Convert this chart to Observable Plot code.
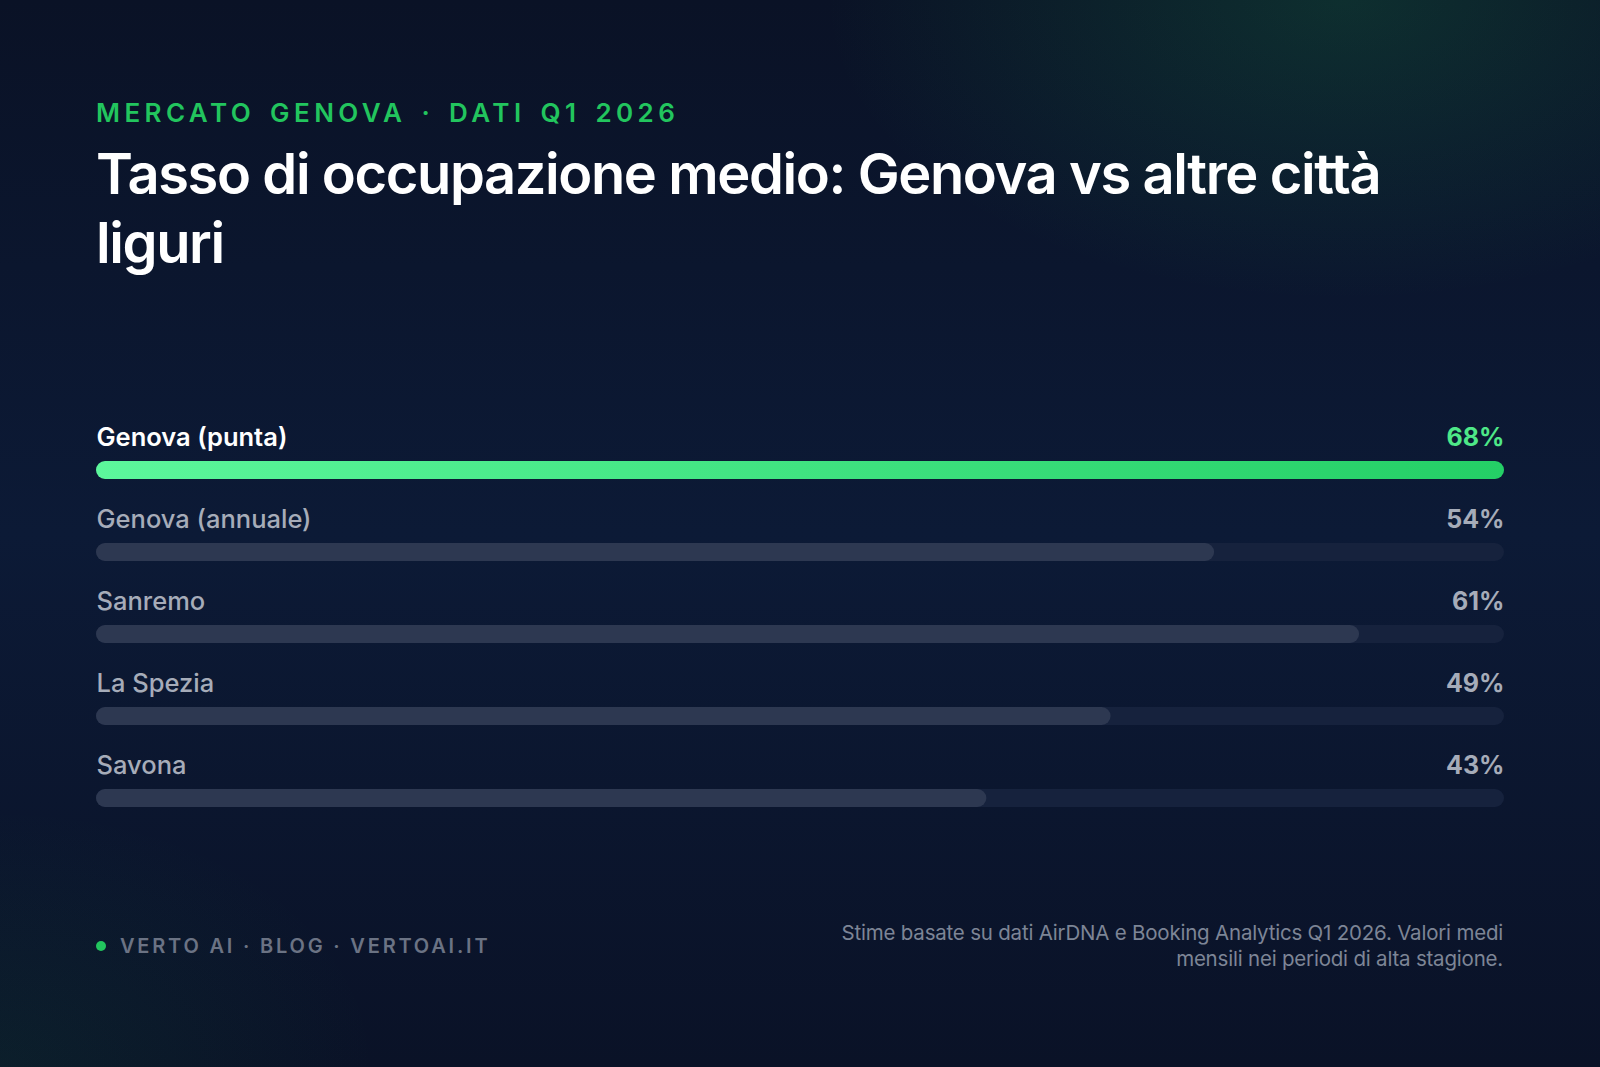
<!DOCTYPE html>
<html>
<head>
<meta charset="utf-8">
<script src="https://cdn.jsdelivr.net/npm/d3@7"></script>
<script src="https://cdn.jsdelivr.net/npm/@observablehq/plot@0.6"></script>
<style>
  html, body { margin: 0; padding: 0; }
  body {
    width: 1600px; height: 1067px; overflow: hidden; position: relative;
    font-family: Inter, "Noto Sans", sans-serif;
    background:
      radial-gradient(ellipse 520px 300px at 84% 0%, rgba(34,197,94,0.16), rgba(34,197,94,0) 100%),
      radial-gradient(ellipse 380px 260px at 0% 100%, rgba(34,197,94,0.07), rgba(34,197,94,0) 100%),
      linear-gradient(180deg, #0a1226 0%, #0c1a36 50%, #0a1227 100%);
  }
  .kicker {
    position: absolute; left: 96px; top: 100px;
    font-size: 26px; line-height: 26px; font-weight: 600;
    letter-spacing: 0.17em; word-spacing: 4px; color: #22c55e; white-space: nowrap;
  }
  .title-line {
    position: absolute; left: 96px; height: 58px; overflow: visible;
    font-size: 56px; line-height: 58px; font-weight: 600;
    letter-spacing: -0.025em; color: #ffffff; margin: 0; white-space: nowrap;
  }
  #chart { position: absolute; left: 96px; top: 410px; }
  .footer-left {
    position: absolute; left: 96px; top: 936px;
    font-size: 20px; line-height: 20px; font-weight: 600;
    letter-spacing: 0.14em; color: #6b7384; white-space: nowrap;
  }
  .footer-left .dot {
    display: inline-block; width: 10px; height: 10px; border-radius: 50%;
    background: #22c55e; margin-right: 14px; vertical-align: 2px;
  }
  .caption {
    position: absolute; right: 97px; top: 920px; text-align: right;
    font-size: 20.5px; line-height: 26px; color: #7d8596; font-weight: 400;
    letter-spacing: -0.01em;
  }
</style>
</head>
<body>
<div class="kicker">MERCATO GENOVA · DATI Q1 2026</div>
<h1 class="title-line" style="top:145px">Tasso di occupazione medio: Genova vs altre città</h1>
<div class="title-line" style="top:214px">liguri</div>
<div id="chart"></div>
<div class="footer-left"><span class="dot"></span>VERTO AI · BLOG · VERTOAI.IT</div>
<div class="caption">Stime basate su dati AirDNA e Booking Analytics Q1 2026. Valori medi<br>mensili nei periodi di alta stagione.</div>
<script>
const categories = ["Genova (punta)", "Genova (annuale)", "Sanremo", "La Spezia", "Savona"];
const values = [68, 54, 61, 49, 43];
const valueLabels = ["68%", "54%", "61%", "49%", "43%"];
const highlighted = ["Genova (punta)"];
const xMax = 68;

const data = categories.map((name, i) => ({
  name, value: values[i], label: valueLabels[i], hi: highlighted.includes(name)
}));
const hiData = data.filter(d => d.hi);
const loData = data.filter(d => !d.hi);

const barOpts = {insetTop: 51, insetBottom: 13, rx: 9};

const plot = Plot.plot({
  width: 1408,
  height: 410,
  margin: 0,
  style: {background: "transparent", fontFamily: "Inter, sans-serif", overflow: "visible"},
  x: {domain: [0, xMax], axis: null},
  y: {domain: categories, axis: null, padding: 0},
  marks: [
    () => {
      const ns = "http://www.w3.org/2000/svg";
      const defs = document.createElementNS(ns, "defs");
      defs.innerHTML = `<linearGradient id="hiGrad" x1="0" x2="1" y1="0" y2="0">
        <stop offset="0%" stop-color="#5cf79c"/>
        <stop offset="100%" stop-color="#24cf66"/>
      </linearGradient>`;
      return defs;
    },
    Plot.barX(data, {x1: 0, x2: xMax, y: "name", fill: "#16223d", ...barOpts}),
    Plot.barX(loData, {x: "value", y: "name", fill: "#2d3851", ...barOpts}),
    Plot.barX(hiData, {x: "value", y: "name", fill: "url(#hiGrad)", ...barOpts}),
    Plot.text(hiData, {x: 0, y: "name", text: "name", textAnchor: "start", dy: -14, fontSize: 25.5, fontWeight: 600, fill: "#ffffff"}),
    Plot.text(loData, {x: 0, y: "name", text: "name", textAnchor: "start", dy: -14, fontSize: 25.5, fontWeight: 500, fill: "#a6acb9"}),
    Plot.text(hiData, {x: xMax, y: "name", text: "label", textAnchor: "end", dy: -14, fontSize: 25, fontWeight: 700, fill: "#4ee888"}),
    Plot.text(loData, {x: xMax, y: "name", text: "label", textAnchor: "end", dy: -14, fontSize: 25, fontWeight: 700, fill: "#a6acb9"})
  ]
});
document.getElementById("chart").appendChild(plot);
</script>
</body>
</html>
